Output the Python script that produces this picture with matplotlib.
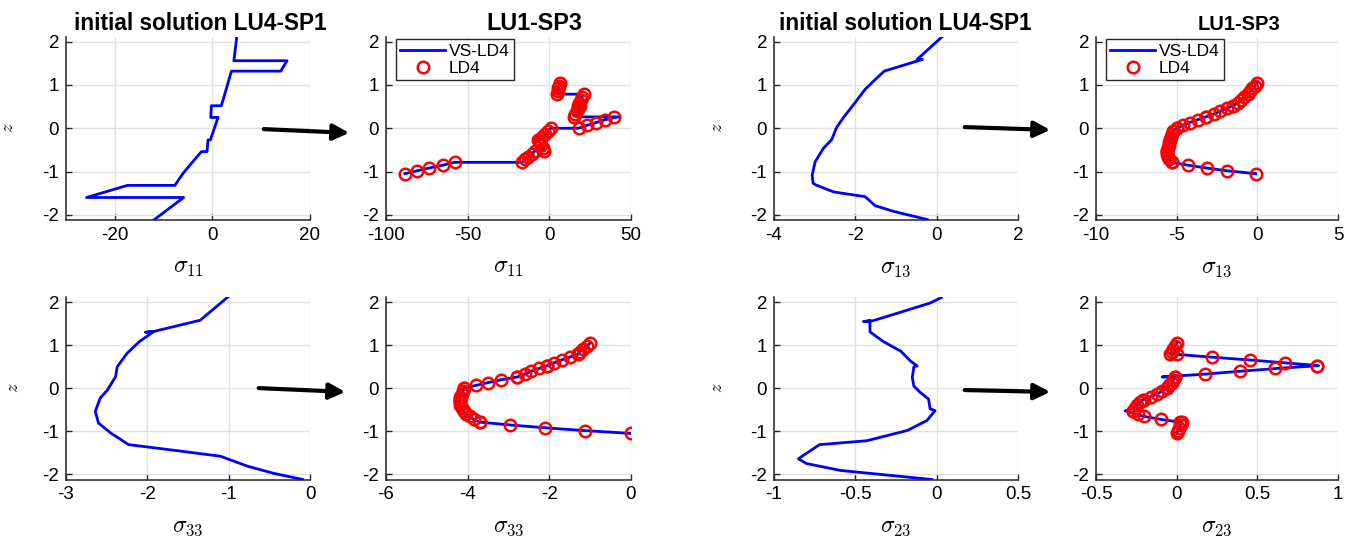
"""
Stress profiles through the thickness: initial solution vs LU1-SP3
"""
import matplotlib
matplotlib.use("Agg")
import matplotlib.pyplot as plt
from matplotlib.patches import FancyArrowPatch
from matplotlib.ticker import FormatStrFormatter

plt.rcParams['font.family'] = ['Liberation Sans', 'DejaVu Sans']
plt.rcParams['mathtext.fontset'] = 'cm'
plt.rcParams['axes.unicode_minus'] = False

# ---- initial solution LU4-SP1 (single curves over z) ----
z_s11_init = [2.12, 1.56, 1.56, 1.32, 1.32, 0.52, 0.52, 0.25, 0.25, -0.27,
              -0.27, -0.54, -0.54, -0.81, -1.04, -1.32, -1.32, -1.6, -1.6, -2.12]
s11_init = [5.0, 4.4, 15.3, 14.0, 3.9, 1.84, -0.2, -0.34, 1.16, -0.41,
            -0.9, -1.1, -2.25, -4.3, -6.0, -7.7, -17.4, -25.8, -5.9, -12.0]

z_s13_init = [2.12, 1.59, 1.59, 1.32, 1.09, 0.90, 0.6, 0.25, 0.02, -0.26,
              -0.47, -0.78, -1.08, -1.27, -1.31, -1.47, -1.54, -1.58, -1.79, -1.92, -2.11]
s13_init = [0.14, -0.48, -0.35, -1.29, -1.55, -1.76, -2.0, -2.29, -2.46, -2.58,
            -2.79, -2.99, -3.06, -3.04, -2.97, -2.54, -2.05, -1.76, -1.51, -1.06, -0.23]

z_s33_init = [2.12, 1.58, 1.32, 1.30, 1.32, 1.08, 0.81, 0.5, 0.27, -0.04, -0.23,
              -0.54, -0.81, -1.04, -1.31, -1.42, -1.58, -1.81, -1.98, -2.12]
s33_init = [-1.01, -1.35, -1.92, -2.02, -1.92, -2.1, -2.25, -2.37, -2.39, -2.49, -2.58,
            -2.64, -2.6, -2.45, -2.23, -1.76, -1.1, -0.77, -0.44, -0.09]

z_s23_init = [2.11, 1.98, 1.57, 1.55, 1.57, 1.31, 1.09, 0.86, 0.63, 0.52, 0.50,
              0.25, 0.05, -0.1, -0.25, -0.48, -0.52, -0.75, -0.98, -1.22, -1.31,
              -1.56, -1.64, -1.75, -1.91, -2.0, -2.12]
s23_init = [0.03, -0.04, -0.39, -0.45, -0.41, -0.41, -0.33, -0.22, -0.16, -0.12, -0.14,
            -0.15, -0.14, -0.1, -0.05, -0.04, -0.01, -0.06, -0.18, -0.43, -0.72,
            -0.82, -0.85, -0.8, -0.59, -0.35, -0.03]

# ---- LU1-SP3: 8 layers x 5 points (VS-LD4 line, LD4 circles) ----
z_ld4 = [-1.05, -0.984, -0.919, -0.853, -0.7875,
         -0.7875, -0.722, -0.656, -0.591, -0.525,
         -0.525, -0.459, -0.394, -0.328, -0.2625,
         -0.2625, -0.197, -0.131, -0.066, 0.0,
         0.0, 0.066, 0.131, 0.197, 0.2625,
         0.2625, 0.328, 0.394, 0.459, 0.525,
         0.525, 0.591, 0.656, 0.722, 0.7875,
         0.7875, 0.853, 0.919, 0.984, 1.05]

s11_ld4 = [-88.4, -81.1, -73.6, -65.2, -57.9,
           -16.7, -14.8, -12.8, -10.8, -8.8,
           -3.0, -3.8, -4.8, -5.9, -7.2,
           -6.2, -4.2, -2.4, -0.8, 0.8,
           17.9, 23.0, 28.6, 34.1, 39.6,
           15.0, 15.8, 16.8, 17.8, 18.8,
           17.5, 18.4, 19.3, 20.2, 21.0,
           4.8, 5.2, 5.6, 6.0, 6.3]
s11_vs = [-88.4, -81.1, -73.6, -65.2, -57.9,
          -16.7, -14.8, -12.8, -10.8, -8.8,
          -3.0, -3.8, -4.8, -5.9, -7.2,
          -6.2, -4.2, -2.4, -0.8, 0.8,
          17.9, 23.0, 28.6, 34.1, 42.3,
          17.5, 15.8, 16.8, 17.8, 18.8,
          17.5, 18.4, 19.3, 20.2, 18.0,
          4.8, 5.2, 5.6, 6.0, 6.3]

s13_ld4 = [-0.1, -1.85, -3.15, -4.3, -5.3,
           -5.3, -5.45, -5.55, -5.6, -5.6,
           -5.6, -5.55, -5.5, -5.45, -5.4,
           -5.4, -5.35, -5.3, -5.2, -5.0,
           -5.0, -4.6, -4.2, -3.7, -3.2,
           -3.2, -2.7, -2.3, -1.9, -1.5,
           -1.5, -1.2, -1.0, -0.8, -0.6,
           -0.6, -0.45, -0.3, -0.15, 0.0]
s13_vs = s13_ld4

s33_ld4 = [0.0, -1.13, -2.1, -2.96, -3.7,
           -3.7, -3.85, -3.95, -4.05, -4.1,
           -4.1, -4.15, -4.18, -4.2, -4.2,
           -4.2, -4.18, -4.15, -4.12, -4.08,
           -4.1, -3.8, -3.5, -3.18, -2.78,
           -2.78, -2.6, -2.45, -2.25, -2.05,
           -2.05, -1.88, -1.7, -1.5, -1.3,
           -1.3, -1.25, -1.17, -1.08, -1.0]
s33_vs = s33_ld4

s23_ld4 = [0.0, 0.008, 0.016, 0.024, 0.03,
           0.02, -0.10, -0.20, -0.24, -0.27,
           -0.27, -0.26, -0.245, -0.23, -0.21,
           -0.20, -0.16, -0.12, -0.09, -0.06,
           -0.06, -0.045, -0.03, -0.02, -0.01,
           -0.01, 0.175, 0.39, 0.61, 0.867,
           0.867, 0.67, 0.455, 0.217, 0.0,
           -0.04, -0.03, -0.02, -0.01, 0.0]
s23_vs = [0.0, 0.008, 0.016, 0.024, 0.03,
          0.02, -0.10, -0.20, -0.26, -0.32,
          -0.32, -0.27, -0.245, -0.23, -0.21,
          -0.20, -0.16, -0.12, -0.09, -0.06,
          -0.06, -0.045, -0.03, -0.02, -0.01,
          -0.09, 0.175, 0.39, 0.62, 0.88,
          0.88, 0.67, 0.455, 0.217, 0.0,
          -0.04, -0.03, -0.02, -0.01, 0.0]

W, H = 1359, 540
fig = plt.figure(figsize=(W / 100, H / 100), dpi=100)

# axes boxes in pixels: left, top, right, bottom
cols = [(66, 310), (386, 631), (774, 1018), (1096, 1338)]
rows = [(36.5, 220), (297, 479.5)]


def make_ax(col, row):
    x0, x1 = cols[col]
    y0, y1 = rows[row]
    ax = fig.add_axes([x0 / W, 1 - y1 / H, (x1 - x0) / W, (y1 - y0) / H])
    for s in ['top', 'right']:
        ax.spines[s].set_visible(False)
    for s in ['left', 'bottom']:
        ax.spines[s].set_color('#262626')
        ax.spines[s].set_linewidth(1.1)
    ax.grid(True, color='#e2e2e2', lw=1.0)
    ax.set_axisbelow(True)
    ax.tick_params(direction='in', length=4, width=1, colors='#262626',
                   labelcolor='black', labelsize=13.5, pad=5)
    ax.set_ylim(-2.12, 2.12)
    ax.set_yticks([-2, -1, 0, 1, 2])
    ax.xaxis.set_major_formatter(FormatStrFormatter('%g'))
    return ax


def style_labels(ax, xlabel, zlabel_x=None):
    ax.set_xlabel(xlabel, fontsize=17)
    ax.xaxis.set_label_coords(0.5, -0.2)
    if zlabel_x is not None:
        ax.set_ylabel('$z$', fontsize=13)
        ax.yaxis.set_label_coords(zlabel_x, 0.5)


blue = '#0000ff'
red = '#ff0000'

panels_init = [
    (0, 0, s11_init, z_s11_init, (-30, 20), [-20, 0, 20], r'$\sigma_{11}$', -0.2),
    (2, 0, s13_init, z_s13_init, (-4, 2), [-4, -2, 0, 2], r'$\sigma_{13}$', -0.195),
    (0, 1, s33_init, z_s33_init, (-3, 0), [-3, -2, -1, 0], r'$\sigma_{33}$', -0.18),
    (2, 1, s23_init, z_s23_init, (-1, 0.5), [-1, -0.5, 0, 0.5], r'$\sigma_{23}$', -0.195),
]
for col, row, xs, zs, xl, xt, lab, zx in panels_init:
    ax = make_ax(col, row)
    ax.plot(xs, zs, color=blue, lw=2.0)
    ax.set_xlim(*xl)
    ax.set_xticks(xt)
    style_labels(ax, lab, zx)
    if row == 0:
        t = ax.set_title('initial solution LU4-SP1', fontsize=16.3, fontweight='bold', pad=5)
        t.set_x(0.55 if col == 0 else 0.537)

panels_lu = [
    (1, 0, s11_vs, s11_ld4, (-100, 50), [-100, -50, 0, 50], r'$\sigma_{11}$'),
    (3, 0, s13_vs, s13_ld4, (-10, 5), [-10, -5, 0, 5], r'$\sigma_{13}$'),
    (1, 1, s33_vs, s33_ld4, (-6, 0), [-6, -4, -2, 0], r'$\sigma_{33}$'),
    (3, 1, s23_vs, s23_ld4, (-0.5, 1), [-0.5, 0, 0.5, 1], r'$\sigma_{23}$'),
]
for col, row, xs_vs, xs_ld, xl, xt, lab in panels_lu:
    ax = make_ax(col, row)
    ax.plot(xs_vs, z_ld4, color=blue, lw=2.0, label='VS-LD4')
    ax.plot(xs_ld, z_ld4, ls='none', marker='o', ms=8.3, mfc='none', mec=red,
            mew=1.8, label='LD4')
    ax.set_xlim(*xl)
    ax.set_xticks(xt)
    style_labels(ax, lab)
    if row == 0:
        t = ax.set_title('LU1-SP3', fontsize=16.8 if col == 1 else 14.5,
                         fontweight='bold', pad=5)
        t.set_x(0.606 if col == 1 else 0.59)
        leg = ax.legend(loc='upper left', bbox_to_anchor=(0.04, 0.985),
                        borderaxespad=0, fontsize=12.5, fancybox=False,
                        framealpha=1, edgecolor='#262626', handlelength=2.6,
                        handletextpad=0.2, borderpad=0.25, labelspacing=0.1)
        leg.get_frame().set_linewidth(1.0)

# arrows between the two solutions (figure pixels)
arrows = [((261, 129), (352, 133)), ((962, 127), (1053, 130)),
          ((256, 388), (348, 392)), ((962, 390), (1053, 392))]
for (xa, ya), (xb, yb) in arrows:
    fig.add_artist(FancyArrowPatch((xa / W, 1 - ya / H), (xb / W, 1 - yb / H),
                                   transform=fig.transFigure, arrowstyle='-|>',
                                   mutation_scale=24, lw=3, color='black'))

fig.savefig('out.png', dpi=100)
